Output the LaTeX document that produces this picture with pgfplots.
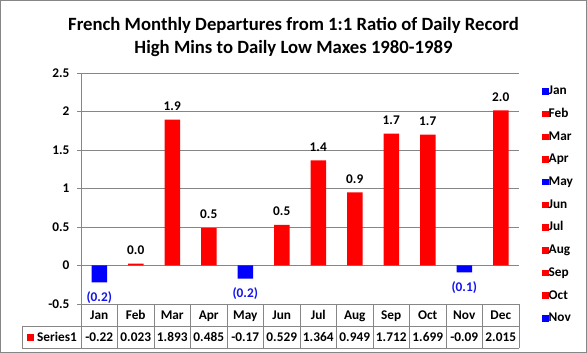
\documentclass[border=0pt]{standalone}
\usepackage{pgfplots}
\pgfplotsset{compat=1.18}
\usepackage{pgfplotstable}
\usepackage{fontspec}
\setmainfont{Carlito}

\pgfplotstableread{
x y
1 0.023
2 1.893
3 0.485
5 0.529
6 1.364
7 0.949
8 1.712
9 1.699
11 2.015
}\redtab
\pgfplotstableread{
x y
0 -0.22
4 -0.17
10 -0.09
}\bluetab

\newcommand\lf{\fontsize{13.3}{16}\selectfont\bfseries}
\newcommand\tf{\fontsize{18.7}{23}\selectfont\bfseries}
\definecolor{gridgray}{RGB}{134,134,134}
\definecolor{lblblue}{RGB}{20,20,240}
\pgfplotsset{
  sq/.style={legend image code/.code={\fill[#1, draw=none] (0pt,-3pt) rectangle (6.5pt,3.5pt);}},
}

\begin{document}
\begin{tikzpicture}
\path[use as bounding box] (0pt,0pt) rectangle (587pt,353pt);
\fill[white] (0pt,0pt) rectangle (587pt,353pt);
\begin{axis}[
  at={(81pt,49pt)}, anchor=south west, scale only axis,
  width=438pt, height=231pt,
  xmin=-0.5, xmax=11.5, ymin=-0.5, ymax=2.5,
  ytick={-0.5,0,0.5,1,1.5,2,2.5},
  xtick=\empty,
  axis x line=none, axis y line*=left,
  y axis line style={draw=gridgray, line width=0.75pt, -},
  ymajorgrids, grid style={gridgray, line width=0.75pt},
  tick align=outside, major tick length=4pt,
  ytick style={gridgray, line width=0.75pt},
  yticklabel style={font=\lf, xshift=-4pt, /pgf/number format/assume math mode=true},
  ybar, bar width=15.5pt,
  clip=false,
  legend style={draw=none, fill=none, at={(1.0525,0.948)}, anchor=north west,
    inner sep=0pt, row sep=9.9pt, font=\lf, legend cell align=left,
    nodes={inner sep=0pt, text height=9.5pt, text depth=3.3pt},
    /tikz/every even column/.append style={column sep=2.5pt}},
]
\addplot[fill=red, draw=none, bar shift=0pt, forget plot,
  nodes near coords={\pgfmathprintnumber[fixed,precision=1,fixed zerofill,assume math mode=true]{\pgfplotspointmeta}},
  every node near coord/.append style={anchor=south, inner sep=0pt, yshift=9pt, font=\lf, text=black}]
  table[x=x,y=y]{\redtab};
\addplot[fill=blue, draw=none, bar shift=0pt, forget plot,
  point meta={-\thisrow{y}},
  nodes near coords={(\pgfmathprintnumber[fixed,precision=1,fixed zerofill,assume math mode=true]{\pgfplotspointmeta})},
  every node near coord/.append style={anchor=north, inner sep=0pt, yshift=-9pt, font=\lf, text=lblblue}]
  table[x=x,y=y]{\bluetab};
\addlegendimage{sq=blue}\addlegendentry{Jan}
\addlegendimage{sq=red}\addlegendentry{Feb}
\addlegendimage{sq=red}\addlegendentry{Mar}
\addlegendimage{sq=red}\addlegendentry{Apr}
\addlegendimage{sq=blue}\addlegendentry{May}
\addlegendimage{sq=red}\addlegendentry{Jun}
\addlegendimage{sq=red}\addlegendentry{Jul}
\addlegendimage{sq=red}\addlegendentry{Aug}
\addlegendimage{sq=red}\addlegendentry{Sep}
\addlegendimage{sq=red}\addlegendentry{Oct}
\addlegendimage{sq=blue}\addlegendentry{Nov}
\end{axis}
% data table
\draw[gridgray, line width=0.75pt] (81pt,49pt) -- (519pt,49pt);
\draw[gridgray, line width=0.75pt] (22pt,27pt) -- (519pt,27pt);
\draw[gridgray, line width=0.75pt] (22pt,5pt) -- (519pt,5pt);
\draw[gridgray, line width=0.75pt] (22pt,27pt) -- (22pt,5pt);
\foreach \k in {0,...,12} \draw[gridgray, line width=0.75pt] ({81pt+36.5pt*\k},49pt) -- ({81pt+36.5pt*\k},5pt);
\foreach \m [count=\i from 0] in {Jan,Feb,Mar,Apr,May,Jun,Jul,Aug,Sep,Oct,Nov,Dec}
  \node[font=\lf, anchor=base, inner sep=0pt] at ({99.25pt+36.5pt*\i},33pt) {\m};
\foreach \v [count=\i from 0] in {-0.22,0.023,1.893,0.485,-0.17,0.529,1.364,0.949,1.712,1.699,-0.09,2.015}
  \node[font=\lf, anchor=base, inner sep=0pt] at ({99.25pt+36.5pt*\i},11pt) {\v};
\fill[red] (27pt,11.5pt) rectangle (34pt,18.5pt);
\node[font=\lf, anchor=base west, inner sep=0pt] at (37pt,11pt) {Series1};
% title
\node[font=\tf, anchor=base] at (293.5pt,322pt) {French Monthly Departures from 1:1 Ratio of Daily Record};
\node[font=\tf, anchor=base] at (293.5pt,299pt) {High Mins to Daily Low Maxes 1980-1989};
% frame
\draw[gridgray, line width=0.75pt] (0.5pt,0.5pt) rectangle (586.5pt,352.5pt);
\end{tikzpicture}
\end{document}
